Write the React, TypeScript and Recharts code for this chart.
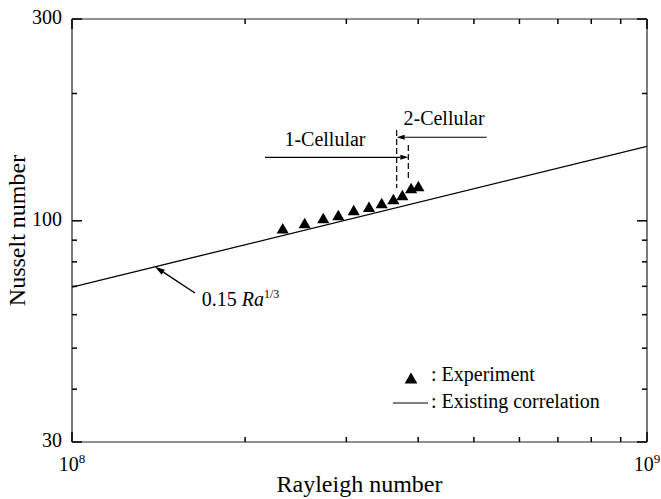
import React from 'react';
import {
  ScatterChart,
  Scatter,
  XAxis,
  YAxis,
  ZAxis,
  ReferenceLine,
  ReferenceDot,
  Legend,
  Symbols,
} from 'recharts';

const FONT = '"Liberation Serif", "Times New Roman", Times, serif';

// ---- data ----
const experimentRa = [2.325e8, 2.539e8, 2.735e8, 2.905e8, 3.09e8, 3.285e8, 3.456e8, 3.622e8, 3.754e8, 3.888e8, 4.003e8];
const experimentNu = [95.1, 97.9, 100.6, 102.2, 105.0, 106.9, 109.1, 111.5, 114.0, 118.4, 119.7];
const correlationRa = [1e8, 1e9];
const correlationNu = [69.7, 150.0];

const xTicks = [1e8, 2e8, 3e8, 4e8, 5e8, 6e8, 7e8, 8e8, 9e8, 1e9];
const xMajorTicks = [1e8, 1e9];
const xMajorExponents = ['8', '9'];
const yTicks = [30, 40, 50, 60, 70, 80, 90, 100, 200, 300];
const yMajorTicks = [30, 100, 300];
const yMajorLabels = ['30', '100', '300'];

const experimentData = experimentRa.map((Ra, i) => ({ Ra, Nu: experimentNu[i] }));
const correlationData = correlationRa.map((Ra, i) => ({ Ra, Nu: correlationNu[i] }));

// ---- styles ----
const MAJOR = 10;
const MINOR = 5;
const TICK = { stroke: '#000', strokeWidth: 1.5 };
const AXIS = { stroke: '#222', strokeWidth: 1.2 };

const BottomTick = (p: any) => {
  const { x, y, payload } = p;
  const idx = xMajorTicks.indexOf(payload.value);
  const major = idx >= 0;
  return (
    <g>
      <line x1={x} x2={x} y1={y} y2={y - (major ? MAJOR : MINOR)} {...TICK} />
      {major && (
        <text x={x} y={y + 29} textAnchor="middle" fontFamily={FONT} fontSize={20} fill="#000">
          10
          <tspan dy={-8} fontSize={13}>{xMajorExponents[idx]}</tspan>
        </text>
      )}
    </g>
  );
};

const TopTick = (p: any) => {
  const { x, y, payload } = p;
  const major = xMajorTicks.indexOf(payload.value) >= 0;
  return <line x1={x} x2={x} y1={y} y2={y + (major ? MAJOR : MINOR)} {...TICK} />;
};

const LeftTick = (p: any) => {
  const { x, y, payload } = p;
  const idx = yMajorTicks.indexOf(payload.value);
  const major = idx >= 0;
  return (
    <g>
      <line x1={x} x2={x + (major ? MAJOR : MINOR)} y1={y} y2={y} {...TICK} />
      {major && (
        <text x={x - 10} y={y + 5.3} textAnchor="end" fontFamily={FONT} fontSize={20} fill="#000">
          {yMajorLabels[idx]}
        </text>
      )}
    </g>
  );
};

const RightTick = (p: any) => {
  const { x, y, payload } = p;
  const major = yMajorTicks.indexOf(payload.value) >= 0;
  return <line x1={x} x2={x - (major ? MAJOR : MINOR)} y1={y} y2={y} {...TICK} />;
};

const XTitle = (p: any) => {
  const vb = p.viewBox;
  return (
    <text x={vb.x + vb.width / 2} y={vb.y + 50} textAnchor="middle" fontFamily={FONT} fontSize={24} fill="#000">
      Rayleigh number
    </text>
  );
};

const YTitle = (p: any) => {
  const vb = p.viewBox;
  const cx = vb.x + 13;
  const cy = vb.y + vb.height / 2;
  return (
    <text x={cx} y={cy} transform={`rotate(-90, ${cx}, ${cy})`} textAnchor="middle" fontFamily={FONT} fontSize={24} fill="#000">
      Nusselt number
    </text>
  );
};

const makeArrow = (len: number, half: number, width: number) => (p: any) => {
  const { x1, y1, x2, y2 } = p;
  const dx = x2 - x1;
  const dy = y2 - y1;
  const d = Math.sqrt(dx * dx + dy * dy) || 1;
  const ux = dx / d;
  const uy = dy / d;
  const bx = x2 - ux * len;
  const by = y2 - uy * len;
  const pts = `${x2},${y2} ${bx - uy * half},${by + ux * half} ${bx + uy * half},${by - ux * half}`;
  return (
    <g>
      <line x1={x1} y1={y1} x2={bx} y2={by} stroke="#000" strokeWidth={width} />
      <polygon points={pts} fill="#000" />
    </g>
  );
};

const CellArrow = makeArrow(8, 2.5, 1.2);
const CorrArrow = makeArrow(10, 3, 1.4);

const EmptyShape = () => <g />;

const textAt = (content: React.ReactNode, anchor: string) => (p: any) => (
  <text x={p.cx} y={p.cy} textAnchor={anchor} fontFamily={FONT} fontSize={20} fill="#000">
    {content}
  </text>
);

const LegendBox = () => (
  <svg width={240} height={60} style={{ overflow: 'visible', display: 'block' }}>
    <Symbols cx={21} cy={19.8} type="triangle" size={70} fill="#000" />
    <text x={41} y={21} fontFamily={FONT} fontSize={20} fill="#000">: Experiment</text>
    <line x1={3} x2={38} y1={43} y2={43} stroke="#000" strokeWidth={1.2} />
    <text x={41} y={48.3} fontFamily={FONT} fontSize={20} fill="#000">: Existing correlation</text>
  </svg>
);

export default function App() {
  return (
    <div style={{ position: 'absolute', left: 0, top: 0, width: 661, height: 499, background: '#fff' }}>
      <ScatterChart width={661} height={499} margin={{ top: 18, right: 13, bottom: 2, left: 12 }}>
        <XAxis
          xAxisId="b"
          orientation="bottom"
          type="number"
          dataKey="Ra"
          scale="log"
          domain={[1e8, 1e9]}
          allowDataOverflow
          ticks={xTicks}
          interval={0}
          tickSize={0}
          tickMargin={0}
          tickLine={false}
          tick={BottomTick}
          axisLine={AXIS}
          height={55}
          label={{ content: XTitle }}
        />
        <XAxis
          xAxisId="t"
          orientation="top"
          type="number"
          dataKey="Ra"
          scale="log"
          domain={[1e8, 1e9]}
          allowDataOverflow
          ticks={xTicks}
          interval={0}
          tickSize={0}
          tickMargin={0}
          tickLine={false}
          tick={TopTick}
          axisLine={AXIS}
          height={1}
        />
        <YAxis
          yAxisId="l"
          orientation="left"
          type="number"
          dataKey="Nu"
          scale="log"
          domain={[30, 300]}
          allowDataOverflow
          ticks={yTicks}
          interval={0}
          tickSize={0}
          tickMargin={0}
          tickLine={false}
          tick={LeftTick}
          axisLine={AXIS}
          width={60}
          label={{ content: YTitle }}
        />
        <YAxis
          yAxisId="r"
          orientation="right"
          type="number"
          dataKey="Nu"
          scale="log"
          domain={[30, 300]}
          allowDataOverflow
          ticks={yTicks}
          interval={0}
          tickSize={0}
          tickMargin={0}
          tickLine={false}
          tick={RightTick}
          axisLine={AXIS}
          width={1}
        />
        <ZAxis range={[70, 70]} />

        <Scatter
          name="Existing correlation"
          data={correlationData}
          xAxisId="t"
          yAxisId="r"
          fill="#000"
          line={{ stroke: '#000', strokeWidth: 1.3 }}
          shape={EmptyShape}
          isAnimationActive={false}
        />
        <Scatter
          name="Experiment"
          data={experimentData}
          xAxisId="b"
          yAxisId="l"
          fill="#000"
          shape="triangle"
          isAnimationActive={false}
        />

        {/* regime boundaries */}
        <ReferenceLine xAxisId="b" yAxisId="l" segment={[{ x: 3.67e8, y: 164 }, { x: 3.67e8, y: 119.6 }]} stroke="#000" strokeWidth={1.2} strokeDasharray="6 3" />
        <ReferenceLine xAxisId="b" yAxisId="l" segment={[{ x: 3.845e8, y: 151 }, { x: 3.845e8, y: 124.3 }]} stroke="#000" strokeWidth={1.2} strokeDasharray="6 3" />
        <ReferenceLine xAxisId="b" yAxisId="l" segment={[{ x: 2.166e8, y: 141.3 }, { x: 3.845e8, y: 141.3 }]} shape={CellArrow} />
        <ReferenceLine xAxisId="b" yAxisId="l" segment={[{ x: 5.263e8, y: 157.6 }, { x: 3.67e8, y: 157.6 }]} shape={CellArrow} />
        <ReferenceLine xAxisId="b" yAxisId="l" segment={[{ x: 1.636e8, y: 67.5 }, { x: 1.394e8, y: 77.9 }]} shape={CorrArrow} />

        <ReferenceDot xAxisId="b" yAxisId="l" x={2.754e8} y={150.3} r={0} shape={textAt('1-Cellular', 'middle')} />
        <ReferenceDot xAxisId="b" yAxisId="l" x={4.436e8} y={168.5} r={0} shape={textAt('2-Cellular', 'middle')} />
        <ReferenceDot
          xAxisId="b"
          yAxisId="l"
          x={1.681e8}
          y={62.9}
          r={0}
          shape={textAt(
            <>
              0.15 <tspan fontStyle="italic">Ra</tspan>
              <tspan dy={-8} fontSize={12}>1/3</tspan>
            </>,
            'start'
          )}
        />

        <Legend
          layout="horizontal"
          verticalAlign="middle"
          align="center"
          content={LegendBox}
          wrapperStyle={{ left: 390, top: 360, width: 240, height: 60 }}
        />
      </ScatterChart>
    </div>
  );
}
